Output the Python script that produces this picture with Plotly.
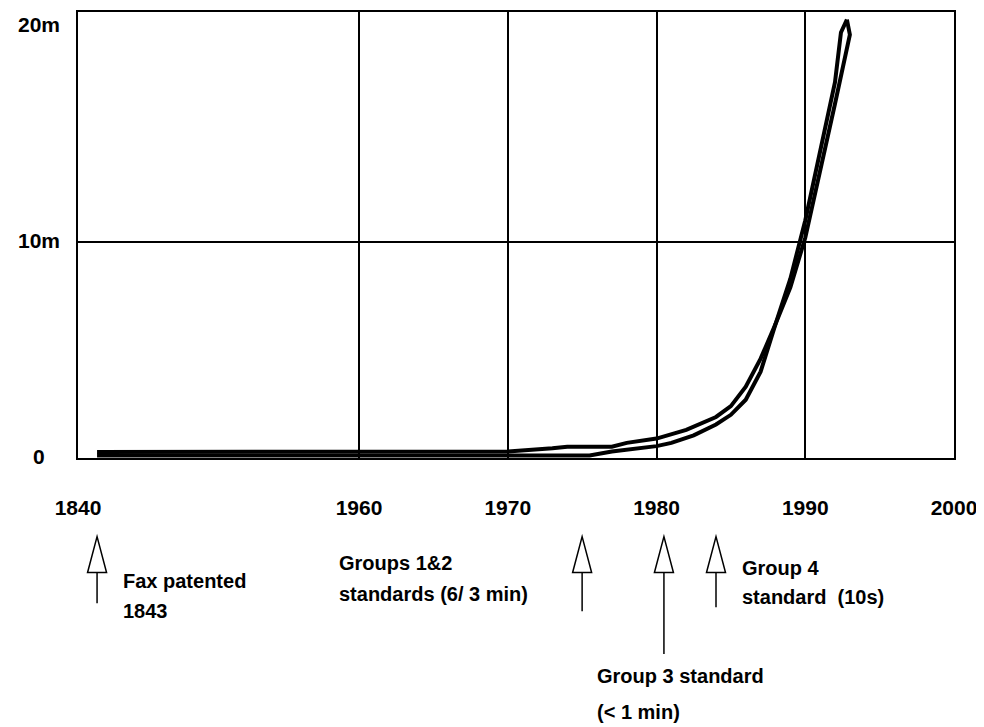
import plotly.graph_objects as go

# ---------------- data ----------------
years_a = [1843, 1960, 1970, 1973, 1974, 1977, 1978, 1980, 1982, 1984, 1985, 1986,
           1987, 1988, 1989, 1990, 1991, 1992, 1992.4, 1992.8]
values_a = [0.28, 0.28, 0.30, 0.45, 0.52, 0.52, 0.70, 0.90, 1.30, 1.90, 2.40, 3.30,
            4.60, 6.20, 8.30, 11.0, 14.1, 17.4, 19.7, 20.3]

years_b = [1843, 1960, 1975.5, 1977, 1980, 1981, 1982.5, 1984, 1985, 1986,
           1987, 1988, 1989, 1990, 1991, 1992, 1993, 1992.8]
values_b = [0.12, 0.12, 0.12, 0.30, 0.55, 0.70, 1.05, 1.55, 2.00, 2.70,
            4.00, 6.20, 7.90, 10.2, 13.2, 16.4, 19.6, 20.3]

tick_years = [1840, 1960, 1970, 1980, 1990, 2000]
tick_labels = ["1840", "1960", "1970", "1980", "1990", "2000"]
y_tick_vals = [0, 10, 20]
y_tick_labels = ["0", "10m", "20m"]

event_years = [1843, 1975, 1980.5, 1984]
event_stem_ends = [604, 612, 655, 608]  # pixel bottoms of arrow stems (page px)
event_texts = [
    ["Fax patented", "1843"],
    ["Groups 1&2", "standards (6/ 3 min)"],
    ["Group 3 standard", "(< 1 min)"],
    ["Group 4", "standard  (10s)"],
]
event_text_pos = [(121, 582, 30), (337, 563, 32), (595, 677, 36), (740, 568, 30)]

# ---------------- broken x scale ----------------
PRE_SCALE = 0.01505  # decades per year before 1960 (compressed section)


def xpos(year):
    if year >= 1960:
        return (year - 1960) / 10.0
    return (year - 1960) * PRE_SCALE


X_LEFT = -1.889
X_RIGHT = 4.0

OFF = 8  # page body margin
W, H = 984 - OFF, 727 - OFF
ML, MR, MT, MB = 78 - OFF, 30, 10 - OFF, 269
PW = W - ML - MR
PH = H - MT - MB
PXU = PW / (X_RIGHT - X_LEFT)


def py2paper(py):  # py in page pixels
    return (H - MB - (py - OFF)) / PH


def px2paper(px):
    return (px - OFF - ML) / PW


FAM = "Liberation Sans, Arial, sans-serif"
FONT = dict(family=FAM, color="black", size=20, weight="bold")

fig = go.Figure()
for ys, vs in [(years_a, values_a), (years_b, values_b)]:
    fig.add_trace(go.Scatter(
        x=[xpos(y) for y in ys], y=vs, mode="lines",
        line=dict(color="black", width=4, shape="linear"),
        showlegend=False, hoverinfo="skip"))

tickvals = [X_LEFT if y == 1840 else xpos(y) for y in tick_years]

fig.update_layout(
    width=W, height=H,
    margin=dict(l=ML, r=MR, t=MT, b=MB, pad=0),
    paper_bgcolor="white", plot_bgcolor="white",
    showlegend=False,
    xaxis=dict(range=[X_LEFT, X_RIGHT], tickvals=tickvals, ticktext=tick_labels,
               showgrid=True, gridcolor="black", gridwidth=1.5,
               showline=True, linecolor="black", linewidth=2, mirror=True,
               zeroline=False, ticks="", ticklabelstandoff=30,
               tickfont=dict(family=FAM, size=21, color="black", weight="bold")),
    yaxis=dict(range=[0, 20.65], tickvals=[0, 10], showticklabels=False,
               showgrid=True, gridcolor="black", gridwidth=1.5,
               showline=True, linecolor="black", linewidth=2, mirror=True,
               zeroline=False, ticks=""),
)

# y-axis labels (centered in left margin)
for v, t in zip(y_tick_vals, y_tick_labels):
    fig.add_annotation(x=0, xref="paper", xshift=-39, y=v, yref="y", yshift=2,
                       text=t, showarrow=False, xanchor="center", yanchor="middle",
                       font=dict(family=FAM, size=21, color="black", weight="bold"))

# event arrows: hollow triangle heads with stems
half_w = 9.5 / PXU
tip_y, base_y = py2paper(537), py2paper(573)
for yr, stem_end in zip(event_years, event_stem_ends):
    xc = xpos(yr)
    fig.add_shape(type="line", xref="x", yref="paper", x0=xc, x1=xc,
                  y0=py2paper(560), y1=py2paper(stem_end),
                  line=dict(color="black", width=1.5))
    fig.add_shape(type="path", xref="x", yref="paper",
                  path=f"M {xc - half_w},{base_y} L {xc},{tip_y} L {xc + half_w},{base_y} Z",
                  fillcolor="white", line=dict(color="black", width=1.5))

# event labels
for lines, (lx, ly, gap) in zip(event_texts, event_text_pos):
    for i, t in enumerate(lines):
        fig.add_annotation(x=px2paper(lx), xref="paper", y=py2paper(ly + i * gap), yref="paper",
                           text=t, showarrow=False, xanchor="left", yanchor="middle",
                           font=FONT)

fig.write_html("out.html")
